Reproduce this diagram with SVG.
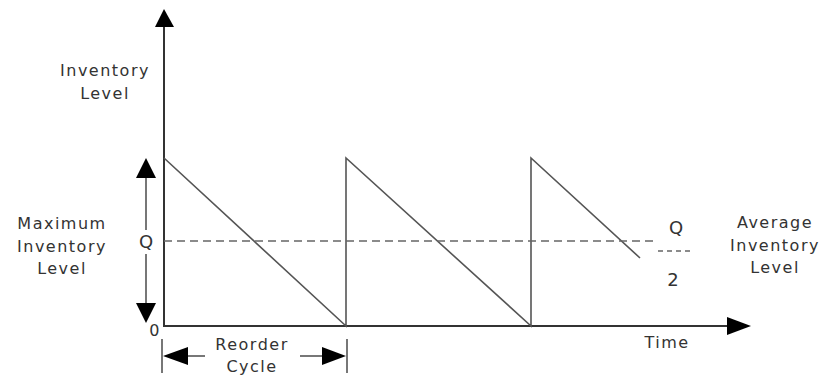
<svg xmlns="http://www.w3.org/2000/svg" width="823" height="377" viewBox="0 0 823 377">
<defs>
<style>
.t{font-family:"DejaVu Sans",sans-serif;font-size:16px;fill:#333;text-anchor:middle;letter-spacing:1.5px}
.big{font-size:18px;letter-spacing:0}
.ax{stroke:#333;stroke-width:2;fill:none}
.ln{stroke:#555;stroke-width:1.6;fill:none}
.ds{stroke:#666;stroke-width:1.5;stroke-dasharray:8,5;fill:none}
.hd{fill:#000}
</style>
</defs>
<rect width="823" height="377" fill="#fff"/>
<g id="axes">
<line class="ax" x1="164" y1="20" x2="164" y2="327"/>
<polygon class="hd" points="164,9 155,27 174,27"/>
<line class="ax" x1="163" y1="326" x2="735" y2="326"/>
<polygon class="hd" points="751,326 727,317 727,335"/>
</g>
<g id="connectors">
<polyline class="ln" points="164,158 346,326 346,158 531,326 531,158 640,258"/>
<line class="ds" x1="164" y1="241" x2="656" y2="241"/>
<line class="ds" x1="658" y1="251" x2="690" y2="251" style="stroke-dasharray:5,4"/>
<line class="ln" x1="146" y1="175" x2="146" y2="230"/>
<line class="ln" x1="146" y1="254" x2="146" y2="305"/>
<polygon class="hd" points="146,158 136,178 156,178"/>
<polygon class="hd" points="146,323 136,303 156,303"/>
<line class="ln" x1="162" y1="339" x2="162" y2="373"/>
<line class="ln" x1="347" y1="339" x2="347" y2="373"/>
<line class="ln" x1="185" y1="356" x2="205" y2="356"/>
<line class="ln" x1="300" y1="356" x2="325" y2="356"/>
<polygon class="hd" points="163,356 188,347 188,365"/>
<polygon class="hd" points="346,356 322,347 322,365"/>
</g>
<g id="label-inventory-level">
<text class="t" x="105" y="76">Inventory</text>
<text class="t" x="105" y="99">Level</text>
</g>
<g id="label-maximum">
<text class="t" x="62" y="229">Maximum</text>
<text class="t" x="62" y="252">Inventory</text>
<text class="t" x="62" y="274">Level</text>
</g>
<g id="label-q-left"><text class="t big" x="146" y="248">Q</text></g>
<g id="label-zero"><text class="t" x="155" y="336">0</text></g>
<g id="label-reorder">
<text class="t" x="252" y="350">Reorder</text>
<text class="t" x="252" y="372">Cycle</text>
</g>
<g id="label-q2">
<text class="t big" x="676" y="234">Q</text>
<text class="t big" x="673" y="286">2</text>
</g>
<g id="label-average">
<text class="t" x="775" y="228">Average</text>
<text class="t" x="775" y="251">Inventory</text>
<text class="t" x="775" y="273">Level</text>
</g>
<g id="label-time"><text class="t" x="667" y="348">Time</text></g>
</svg>
